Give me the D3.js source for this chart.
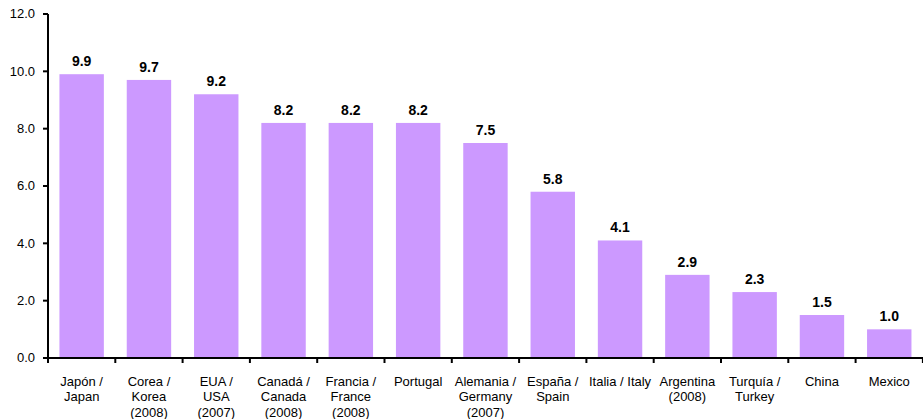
<!DOCTYPE html>
<html>
<head>
<meta charset="utf-8">
<script src="https://cdn.jsdelivr.net/npm/d3@7"></script>
<style>
    body { margin: 0; background: #fff; }
    svg { display: block; font-family: "Liberation Sans", Arial, sans-serif; }
</style>
</head>
<body>
<svg id="chart" width="923" height="419"></svg>
<script>
const categories = [
    ['Japón /', 'Japan'],
    ['Corea /', 'Korea', '(2008)'],
    ['EUA /', 'USA', '(2007)'],
    ['Canadá /', 'Canada', '(2008)'],
    ['Francia /', 'France', '(2008)'],
    ['Portugal'],
    ['Alemania /', 'Germany', '(2007)'],
    ['España /', 'Spain'],
    ['Italia / Italy'],
    ['Argentina', '(2008)'],
    ['Turquía /', 'Turkey'],
    ['China'],
    ['Mexico']
];
const values = [9.9, 9.7, 9.2, 8.2, 8.2, 8.2, 7.5, 5.8, 4.1, 2.9, 2.3, 1.5, 1.0];
const yTicks = [0, 2, 4, 6, 8, 10, 12];

const margin = {left: 48, top: 14, bottom: 61};
const width = 923, height = 419;
const svg = d3.select('#chart');

const x = d3.scaleBand()
    .domain(d3.range(categories.length))
    .range([margin.left, margin.left + 13 * 67.3])
    .paddingInner(0.34)
    .paddingOuter(0.17);

const y = d3.scaleLinear()
    .domain([0, 12])
    .range([height - margin.bottom, margin.top]);

// bars
svg.selectAll('rect.bar')
    .data(values)
    .enter()
    .append('rect')
    .attr('class', 'bar')
    .attr('x', (d, i) => x(i))
    .attr('y', d => y(d))
    .attr('width', x.bandwidth())
    .attr('height', d => y(0) - y(d))
    .attr('fill', '#cc99ff');

// value labels
svg.selectAll('text.value')
    .data(values)
    .enter()
    .append('text')
    .attr('class', 'value')
    .attr('x', (d, i) => x(i) + x.bandwidth() / 2)
    .attr('y', d => y(d) - 8)
    .attr('text-anchor', 'middle')
    .attr('font-size', '14px')
    .attr('font-weight', 'bold')
    .text(d => d.toFixed(1));

// y axis
const yAxis = svg.append('g')
    .attr('transform', `translate(${margin.left},0)`)
    .call(d3.axisLeft(y).tickValues(yTicks).tickFormat(d3.format('.1f'))
        .tickSize(5).tickSizeOuter(0).offset(0));
yAxis.select('.domain').attr('stroke', '#000').attr('stroke-width', 2);
yAxis.selectAll('.tick line').attr('stroke', '#000').attr('stroke-width', 2);
yAxis.selectAll('.tick text')
    .attr('font-family', '"Liberation Sans", Arial, sans-serif')
    .attr('font-size', '13px')
    .attr('x', -13)
    .attr('fill', '#000');

// x axis, ticks at band edges
const edges = d3.range(categories.length + 1).map(i => margin.left + i * x.step());
const xg = svg.append('g');
xg.append('line')
    .attr('x1', margin.left - 1)
    .attr('x2', width)
    .attr('y1', y(0))
    .attr('y2', y(0))
    .attr('stroke', '#000')
    .attr('stroke-width', 2);
xg.selectAll('line.tick')
    .data(edges)
    .enter()
    .append('line')
    .attr('class', 'tick')
    .attr('x1', d => d)
    .attr('x2', d => d)
    .attr('y1', y(0))
    .attr('y2', y(0) + 5)
    .attr('stroke', '#000')
    .attr('stroke-width', 2);

// category labels
const labels = svg.selectAll('text.cat')
    .data(categories)
    .enter()
    .append('text')
    .attr('class', 'cat')
    .attr('text-anchor', 'middle')
    .attr('font-size', '13px')
    .attr('fill', '#000')
    .attr('transform', (d, i) => `translate(${x(i) + x.bandwidth() / 2},${y(0) + 28})`);
labels.selectAll('tspan')
    .data(d => d)
    .enter()
    .append('tspan')
    .attr('x', 0)
    .attr('y', (d, i) => i * 15.3)
    .text(d => d);
</script>
</body>
</html>
